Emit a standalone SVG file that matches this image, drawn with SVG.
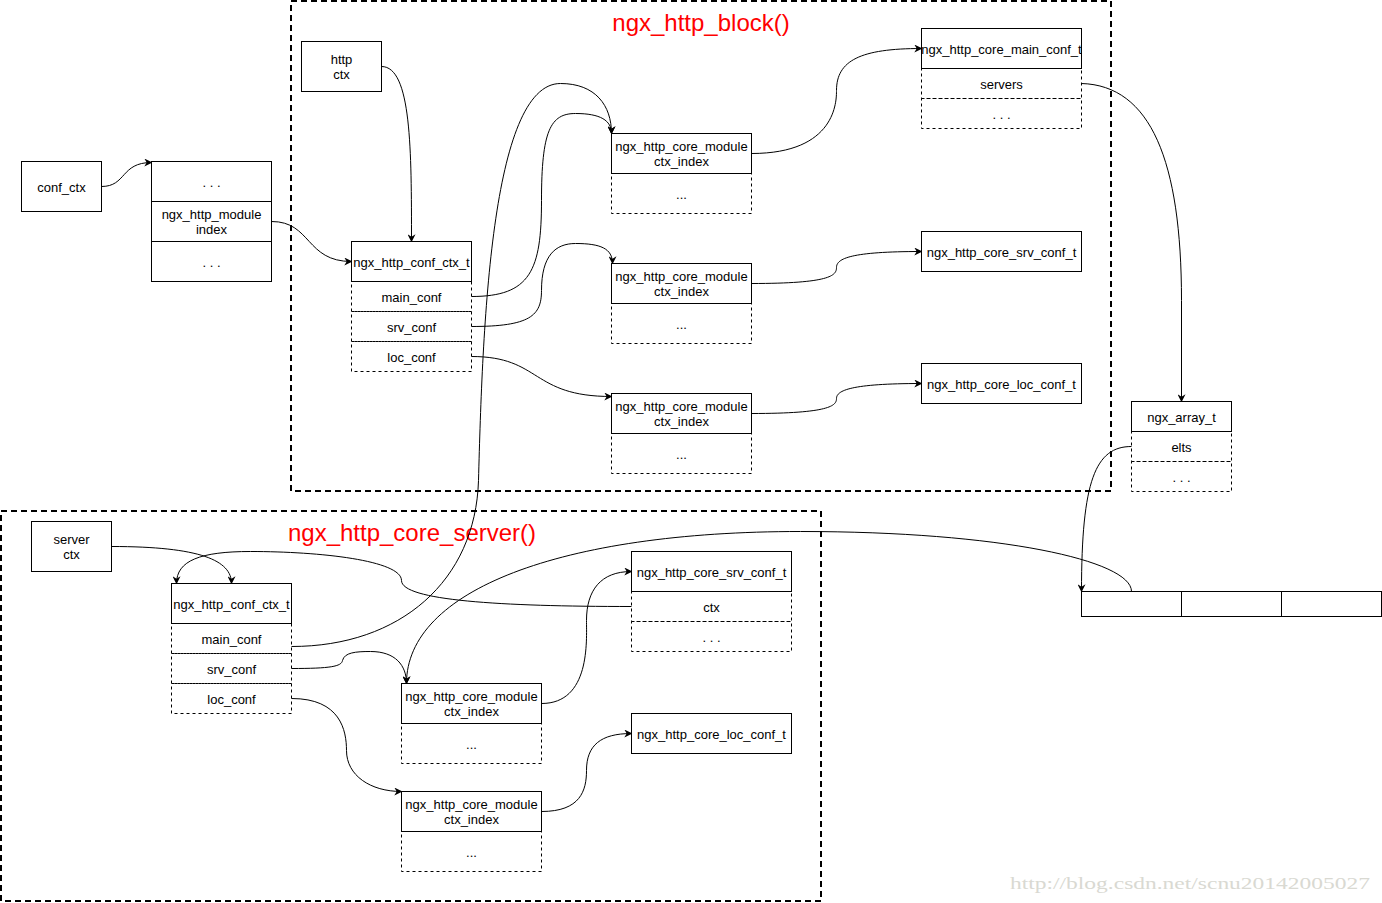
<svg xmlns="http://www.w3.org/2000/svg" width="1382" height="903" viewBox="0 0 1382 903">
<style>
.s{fill:#fff;stroke:#000;stroke-width:1}
.d{fill:none;stroke:#000;stroke-width:1;stroke-dasharray:3 3}
.f{fill:none;stroke:#000;stroke-width:2;stroke-dasharray:6 4}
.t{font-family:"Liberation Sans",Arial,sans-serif;font-size:13px;fill:#000;text-anchor:middle}
.ti{font-family:"Liberation Sans",Arial,sans-serif;font-size:24px;fill:#ff0000;text-anchor:middle}
.c{fill:none;stroke:#000;stroke-width:1;marker-end:url(#a)}
</style>
<defs>
<marker id="a" viewBox="0 0 10 10" refX="9" refY="5" markerWidth="8" markerHeight="8" markerUnits="userSpaceOnUse" orient="auto">
<path d="M0,0 L10,5 L0,10 L3,5 Z" fill="#000"/>
</marker>
</defs>
<rect width="1382" height="903" fill="#fff"/>

<g id="frame-block">
<rect class="f" x="291" y="1" width="820" height="490"/>
<text class="ti" x="701" y="31">ngx_http_block()</text>
</g>
<g id="frame-server">
<rect class="f" x="1" y="511" width="820" height="390"/>
<text class="ti" x="412" y="541">ngx_http_core_server()</text>
</g>

<g transform="translate(0.5,0.5)">
<g id="conf_ctx">
<rect class="s" x="21" y="161" width="80" height="50"/>
<text class="t" x="61" y="191">conf_ctx</text>
</g>

<g id="module-array">
<rect class="s" x="151" y="161" width="120" height="40"/>
<text class="t" x="211" y="186">. . .</text>
<rect class="s" x="151" y="201" width="120" height="40"/>
<text class="t" x="211" y="218">ngx_http_module</text>
<text class="t" x="211" y="233">index</text>
<rect class="s" x="151" y="241" width="120" height="40"/>
<text class="t" x="211" y="266">. . .</text>
</g>

<g id="http-ctx">
<rect class="s" x="301" y="41" width="80" height="50"/>
<text class="t" x="341" y="63">http</text>
<text class="t" x="341" y="78">ctx</text>
</g>

<g id="conf-ctx-t-top">
<rect class="d" x="351" y="281" width="120" height="30"/>
<rect class="d" x="351" y="311" width="120" height="30"/>
<rect class="d" x="351" y="341" width="120" height="30"/>
<rect class="s" x="351" y="241" width="120" height="40"/>
<text class="t" x="411" y="266">ngx_http_conf_ctx_t</text>
<text class="t" x="411" y="301">main_conf</text>
<text class="t" x="411" y="331">srv_conf</text>
<text class="t" x="411" y="361">loc_conf</text>
</g>

<g id="core-module-1">
<rect class="d" x="611" y="173" width="140" height="40"/>
<rect class="s" x="611" y="133" width="140" height="40"/>
<text class="t" x="681" y="150">ngx_http_core_module</text>
<text class="t" x="681" y="165">ctx_index</text>
<text class="t" x="681" y="198">...</text>
</g>
<g id="core-module-2">
<rect class="d" x="611" y="303" width="140" height="40"/>
<rect class="s" x="611" y="263" width="140" height="40"/>
<text class="t" x="681" y="280">ngx_http_core_module</text>
<text class="t" x="681" y="295">ctx_index</text>
<text class="t" x="681" y="328">...</text>
</g>
<g id="core-module-3">
<rect class="d" x="611" y="433" width="140" height="40"/>
<rect class="s" x="611" y="393" width="140" height="40"/>
<text class="t" x="681" y="410">ngx_http_core_module</text>
<text class="t" x="681" y="425">ctx_index</text>
<text class="t" x="681" y="458">...</text>
</g>

<g id="core-main-conf">
<rect class="d" x="921" y="68" width="160" height="30"/>
<rect class="d" x="921" y="98" width="160" height="30"/>
<rect class="s" x="921" y="28" width="160" height="40"/>
<text class="t" x="1001" y="53">ngx_http_core_main_conf_t</text>
<text class="t" x="1001" y="88">servers</text>
<text class="t" x="1001" y="118">. . .</text>
</g>
<g id="core-srv-conf-top">
<rect class="s" x="921" y="231" width="160" height="40"/>
<text class="t" x="1001" y="256">ngx_http_core_srv_conf_t</text>
</g>
<g id="core-loc-conf-top">
<rect class="s" x="921" y="363" width="160" height="40"/>
<text class="t" x="1001" y="388">ngx_http_core_loc_conf_t</text>
</g>

<g id="ngx-array-t">
<rect class="d" x="1131" y="431" width="100" height="30"/>
<rect class="d" x="1131" y="461" width="100" height="30"/>
<rect class="s" x="1131" y="401" width="100" height="30"/>
<text class="t" x="1181" y="421">ngx_array_t</text>
<text class="t" x="1181" y="451">elts</text>
<text class="t" x="1181" y="481">. . .</text>
</g>

<g id="servers-array">
<rect class="s" x="1081" y="591" width="100" height="25"/>
<rect class="s" x="1181" y="591" width="100" height="25"/>
<rect class="s" x="1281" y="591" width="100" height="25"/>
</g>

<g id="server-ctx">
<rect class="s" x="31" y="521" width="80" height="50"/>
<text class="t" x="71" y="543">server</text>
<text class="t" x="71" y="558">ctx</text>
</g>

<g id="conf-ctx-t-bottom">
<rect class="d" x="171" y="623" width="120" height="30"/>
<rect class="d" x="171" y="653" width="120" height="30"/>
<rect class="d" x="171" y="683" width="120" height="30"/>
<rect class="s" x="171" y="583" width="120" height="40"/>
<text class="t" x="231" y="608">ngx_http_conf_ctx_t</text>
<text class="t" x="231" y="643">main_conf</text>
<text class="t" x="231" y="673">srv_conf</text>
<text class="t" x="231" y="703">loc_conf</text>
</g>

<g id="core-module-b1">
<rect class="d" x="401" y="723" width="140" height="40"/>
<rect class="s" x="401" y="683" width="140" height="40"/>
<text class="t" x="471" y="700">ngx_http_core_module</text>
<text class="t" x="471" y="715">ctx_index</text>
<text class="t" x="471" y="748">...</text>
</g>
<g id="core-module-b2">
<rect class="d" x="401" y="831" width="140" height="40"/>
<rect class="s" x="401" y="791" width="140" height="40"/>
<text class="t" x="471" y="808">ngx_http_core_module</text>
<text class="t" x="471" y="823">ctx_index</text>
<text class="t" x="471" y="856">...</text>
</g>

<g id="core-srv-conf-bottom">
<rect class="d" x="631" y="591" width="160" height="30"/>
<rect class="d" x="631" y="621" width="160" height="30"/>
<rect class="s" x="631" y="551" width="160" height="40"/>
<text class="t" x="711" y="576">ngx_http_core_srv_conf_t</text>
<text class="t" x="711" y="611">ctx</text>
<text class="t" x="711" y="641">. . .</text>
</g>
<g id="core-loc-conf-bottom">
<rect class="s" x="631" y="713" width="160" height="40"/>
<text class="t" x="711" y="738">ngx_http_core_loc_conf_t</text>
</g>

<g id="connectors">
<path class="c" d="M101,186 C126,186 120,162 151,162"/>
<path class="c" d="M271,221 C311,221 305,261 351,261"/>
<path class="c" d="M381,66 C411,66 411,150 411,241"/>
<path class="c" d="M471,296 C530,296 541,270 541,200 C541,130 550,113 575,113 C600,113 611,120 611,133"/>
<path class="c" d="M471,326 C530,326 541,315 541,290 C541,255 555,243 575,243 C600,243 612,248 612,263"/>
<path class="c" d="M471,356 C541,356 530,396 611,396"/>
<path class="c" d="M751,153 C836,153 836,100 836,90 C836,60 860,48 921,48"/>
<path class="c" d="M751,283 C830,283 836,275 836,267 C836,258 850,251 921,251"/>
<path class="c" d="M751,413 C830,413 836,405 836,398 C836,390 850,383 921,383"/>
<path class="c" d="M1081,83 C1150,85 1181,160 1181,300 L1181,401"/>
<path class="c" d="M1131,446 C1095,446 1081,480 1081,591"/>
<path class="c" d="M1131,591 C1131,560 1000,531 800,531 C560,531 406,590 406,683"/>
<path class="c" d="M111,546 C200,546 231,560 231,583"/>
<path class="c" d="M631,606 C500,606 401,600 401,580 C401,560 320,551 250,551 C200,551 176,560 176,583"/>
<path class="c" d="M291,646 C400,646 475,580 478,480 C482,330 490,83 560,83 C595,83 611,105 611,133"/>
<path class="c" d="M291,668 C330,668 341,666 342,660 C344,652 355,651 370,651 C395,651 406,665 406,683"/>
<path class="c" d="M291,698 C340,698 346,730 346,750 C346,775 370,791 401,791"/>
<path class="c" d="M541,703 C590,703 586,640 586,620 C586,590 600,571 631,571"/>
<path class="c" d="M541,811 C580,811 586,790 586,770 C586,745 600,733 631,733"/>
</g>
</g>

<text x="1190" y="889" font-family="'Liberation Serif',serif" font-size="17" fill="#d9d9d2" text-anchor="middle" textLength="360" lengthAdjust="spacingAndGlyphs">http://blog.csdn.net/scnu20142005027</text>
</svg>
